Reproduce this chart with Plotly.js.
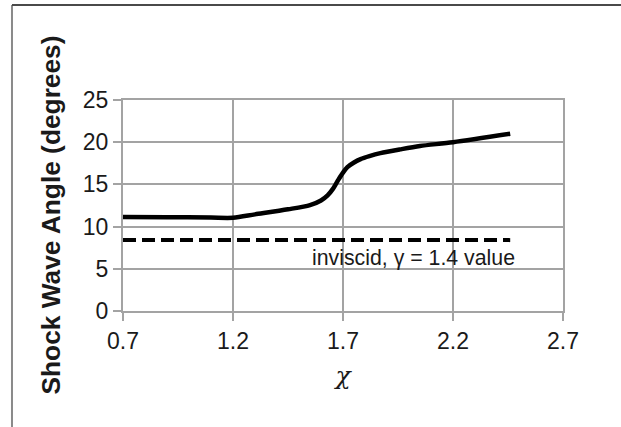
<!DOCTYPE html>
<html>
<head>
<meta charset="utf-8">
<script src="https://cdn.plot.ly/plotly-3.0.1.min.js"></script>
<style>
html,body{margin:0;padding:0;background:#fff;overflow:hidden;}
#chart{width:621px;height:427px;}
</style>
</head>
<body>
<div id="chart"></div>
<script>
// Shock wave angle vs chi
const chi   = [0.7, 0.9, 1.1, 1.2, 1.3, 1.45, 1.55, 1.6, 1.63, 1.655, 1.68, 1.7, 1.72, 1.75, 1.78, 1.82, 1.87, 1.96, 2.05, 2.2, 2.46];
const angle = [11.15, 11.12, 11.07, 11.05, 11.45, 12.05, 12.55, 13.1, 13.7, 14.5, 15.6, 16.4, 17.05, 17.6, 18.0, 18.35, 18.7, 19.15, 19.55, 20.0, 21.0];
// inviscid, gamma = 1.4 reference value
const invChi   = [0.7, 2.46];
const invAngle = [8.4, 8.4];
const xTicks = [0.7, 1.2, 1.7, 2.2, 2.7];
const xTickText = ["0.7", "1.2", "1.7", "2.2", "2.7"];
const yTicks = [0, 5, 10, 15, 20, 25];
const noteText = "inviscid, γ = 1.4 value";
const yTitle = "Shock Wave Angle (degrees)";
const xTitle = "χ";

const font = "Liberation Sans, Arial, sans-serif";
const grid = "#a3a3a3";

const traces = [
  {x: chi, y: angle, mode: "lines", line: {color: "#000", width: 4.5, shape: "spline", smoothing: 0.8}, hoverinfo: "skip"},
  {x: invChi, y: invAngle, mode: "lines", line: {color: "#000", width: 4, dash: "13px,6px"}, hoverinfo: "skip"}
];

const layout = {
  width: 621, height: 427,
  paper_bgcolor: "#fff", plot_bgcolor: "rgba(0,0,0,0)",
  margin: {l: 123, r: 58, t: 100, b: 116},
  showlegend: false,
  font: {family: font, color: "#1a1a1a", size: 22},
  xaxis: {
    range: [0.7, 2.7], tickvals: xTicks, ticktext: xTickText,
    showgrid: true, gridcolor: grid, gridwidth: 2,
    showline: true, linecolor: grid, linewidth: 2, mirror: true,
    ticks: "outside", ticklen: 8, tickcolor: grid, tickwidth: 2,
    tickfont: {size: 23, family: font, color: "#1a1a1a"},
    zeroline: false,
    title: {text: "<i>" + xTitle + "</i>", font: {size: 25, family: "DejaVu Serif, serif", color: "#1a1a1a"}, standoff: 14}
  },
  yaxis: {
    range: [0, 25], tickvals: yTicks,
    showgrid: true, gridcolor: grid, gridwidth: 2,
    showline: true, linecolor: grid, linewidth: 2, mirror: true,
    ticks: "outside", ticklen: 8, tickcolor: grid, tickwidth: 2,
    tickfont: {size: 23, family: font, color: "#1a1a1a"},
    zeroline: false
  },
  shapes: [
    {type: "line", xref: "paper", yref: "paper", x0: -0.2523, x1: -0.2523, y0: 1.4502, y1: -0.6, line: {color: "#8a8a8a", width: 2}},
    {type: "line", xref: "paper", yref: "paper", x0: -0.2523, x1: 1.2, y0: 1.4502, y1: 1.4502, line: {color: "#4a4a4a", width: 2}}
  ],
  annotations: [
    {x: 2.02, y: 6.28, xref: "x", yref: "y", text: noteText, showarrow: false,
     font: {size: 21.3, family: font, color: "#1a1a1a"}, xanchor: "center", yanchor: "middle"},
    {x: -0.1659, y: 0.4526, xref: "paper", yref: "paper", text: "<b>" + yTitle + "</b>", textangle: -90, showarrow: false,
     font: {size: 26.3, family: font, color: "#1a1a1a"}, xanchor: "center", yanchor: "middle"}
  ]
};

Plotly.newPlot("chart", traces, layout, {staticPlot: true, displayModeBar: false});
</script>
</body>
</html>
